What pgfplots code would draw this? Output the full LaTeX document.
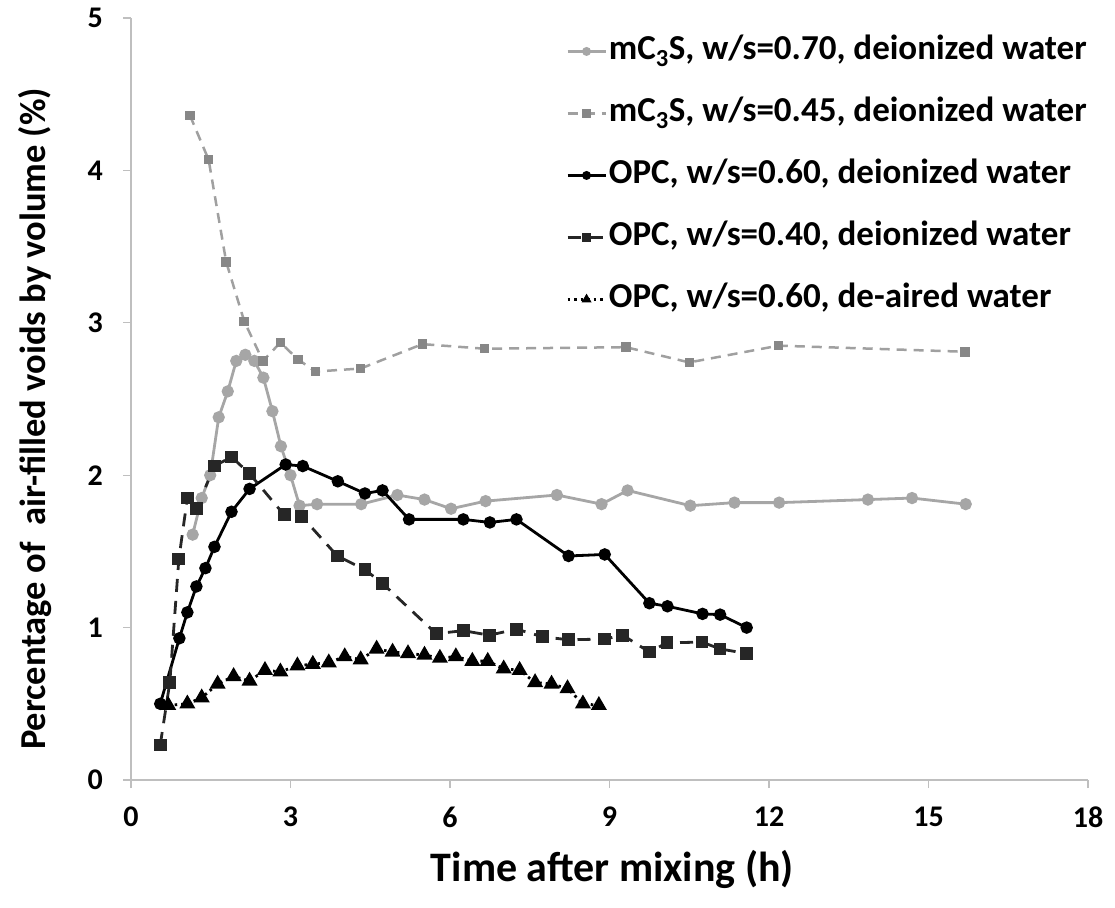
\documentclass[border=0pt]{standalone}
\usepackage{fontspec}
\setmainfont{Carlito}
\usepackage{pgfplots}
\pgfplotsset{compat=1.18}
\definecolor{gA}{RGB}{166,166,166}
\definecolor{gB}{RGB}{160,160,160}
\definecolor{gBm}{RGB}{135,135,135}
\definecolor{dK}{RGB}{38,38,38}
\definecolor{axc}{RGB}{191,191,191}
\begin{document}
\begin{tikzpicture}
\begin{axis}[
  at={(0,0)}, anchor=south west,
  scale only axis, width=957pt, height=762pt,
  xmin=0, xmax=18, ymin=0, ymax=5,
  xtick={0,3,6,9,12,15,18}, ytick={0,1,2,3,4,5},
  axis x line*=bottom, axis y line*=left,
  axis line style={draw=axc, line width=1.3pt, -},
  every tick/.style={draw=axc, line width=1.3pt},
  tick align=outside, major tick length=8pt,
  tick label style={font=\fontsize{30}{34}\selectfont\bfseries},
  /pgf/number format/assume math mode=true,
  xticklabel style={anchor=center, yshift=-29pt},
  yticklabel style={anchor=east, inner sep=0pt, xshift=-20pt},
  xlabel={Time after mixing (h)},
  xlabel style={font=\fontsize{42}{48}\selectfont\bfseries, at={(axis description cs:0.503,-0.118)}, anchor=center},
  ylabel={Percentage of\ \ air-filled voids by volume (\%)},
  ylabel style={font=\fontsize{36.5}{42}\selectfont\bfseries, at={(axis description cs:-0.1003,0.474)}, anchor=center},
  legend cell align=left,
  legend style={at={(axis description cs:0.4545,0.980)}, anchor=north west, draw=none, fill=none,
    font=\fontsize{35}{40}\selectfont\bfseries, inner sep=0pt, row sep=26pt,
    nodes={text height=24pt, text depth=8pt, inner sep=2pt}},
  legend image code/.code={\draw[mark repeat=2,mark phase=2,#1,mark size=3pt] plot coordinates {(0pt,0pt) (19pt,0pt) (38pt,0pt)};},
]
\addplot[color=gA, line width=2.8pt, mark=*, mark size=4.7pt, mark options={solid, fill=gA, draw=gA}] coordinates {
(1.16,1.61) (1.33,1.85) (1.49,2.00) (1.65,2.38) (1.82,2.55) (1.98,2.75) (2.15,2.79) (2.32,2.75)
(2.49,2.64) (2.66,2.42) (2.82,2.19) (3.00,2.00) (3.17,1.80) (3.50,1.81) (4.33,1.81) (5.01,1.87)
(5.52,1.84) (6.02,1.78) (6.67,1.83) (8.01,1.87) (8.85,1.81) (9.34,1.90) (10.52,1.80) (11.35,1.82)
(12.19,1.82) (13.86,1.84) (14.69,1.85) (15.70,1.81)};
\addlegendentry{mC\textsubscript{3}S, w/s=0.70, deionized water}
\addplot[color=gB, line width=2.5pt, dash pattern=on 10pt off 7pt, mark=square*, mark size=3.5pt, mark options={solid, fill=gBm, draw=gBm}] coordinates {
(1.11,4.36) (1.46,4.07) (1.79,3.40) (2.13,3.01) (2.48,2.75) (2.81,2.87) (3.14,2.76) (3.47,2.68)
(4.32,2.70) (5.48,2.86) (6.65,2.83) (9.31,2.84) (10.50,2.74) (12.18,2.85) (15.69,2.81)};
\addlegendentry{mC\textsubscript{3}S, w/s=0.45, deionized water}
\addplot[color=black, line width=2.8pt, mark=*, mark size=4.8pt, mark options={solid, fill=black}] coordinates {
(0.55,0.50) (0.91,0.93) (1.06,1.10) (1.23,1.27) (1.40,1.39) (1.57,1.53) (1.89,1.76) (2.23,1.91)
(2.91,2.07) (3.23,2.06) (3.89,1.96) (4.40,1.88) (4.73,1.90) (5.23,1.71) (6.25,1.71) (6.75,1.69)
(7.25,1.71) (8.23,1.47) (8.91,1.48) (9.75,1.16) (10.09,1.14) (10.75,1.09) (11.08,1.085) (11.58,1.00)};
\addlegendentry{OPC, w/s=0.60, deionized water}
\addplot[color=dK, line width=2.8pt, dash pattern=on 13pt off 9pt, mark=square*, mark size=5pt, mark options={solid, fill=dK}] coordinates {
(0.55,0.23) (0.73,0.64) (0.90,1.45) (1.06,1.85) (1.23,1.78) (1.57,2.06) (1.89,2.12) (2.23,2.01)
(2.88,1.74) (3.21,1.73) (3.88,1.47) (4.40,1.38) (4.73,1.29) (5.74,0.96) (6.25,0.98) (6.74,0.95)
(7.25,0.99) (7.74,0.94) (8.23,0.92) (8.91,0.925) (9.25,0.95) (9.75,0.84) (10.08,0.90) (10.74,0.905)
(11.08,0.86) (11.58,0.83)};
\addlegendentry{OPC, w/s=0.40, deionized water}
\addplot[color=black, line width=2.8pt, dash pattern=on 2.5pt off 4pt, mark=triangle*, mark size=6.5pt, mark options={solid, fill=black}] coordinates {
(0.70,0.49) (1.06,0.50) (1.33,0.54) (1.63,0.63) (1.93,0.68) (2.23,0.65) (2.52,0.72) (2.81,0.71)
(3.13,0.75) (3.42,0.76) (3.72,0.77) (4.02,0.81) (4.32,0.79) (4.62,0.86) (4.92,0.84) (5.21,0.83)
(5.52,0.82) (5.81,0.80) (6.11,0.81) (6.42,0.78) (6.71,0.78) (7.01,0.73) (7.31,0.72) (7.60,0.64)
(7.91,0.63) (8.21,0.60) (8.50,0.50) (8.80,0.49)};
\addlegendentry{OPC, w/s=0.60, de-aired water}
\end{axis}
\pgfresetboundingbox
\path (-131pt,-127pt) rectangle (984pt,780pt);
\end{tikzpicture}
\end{document}
